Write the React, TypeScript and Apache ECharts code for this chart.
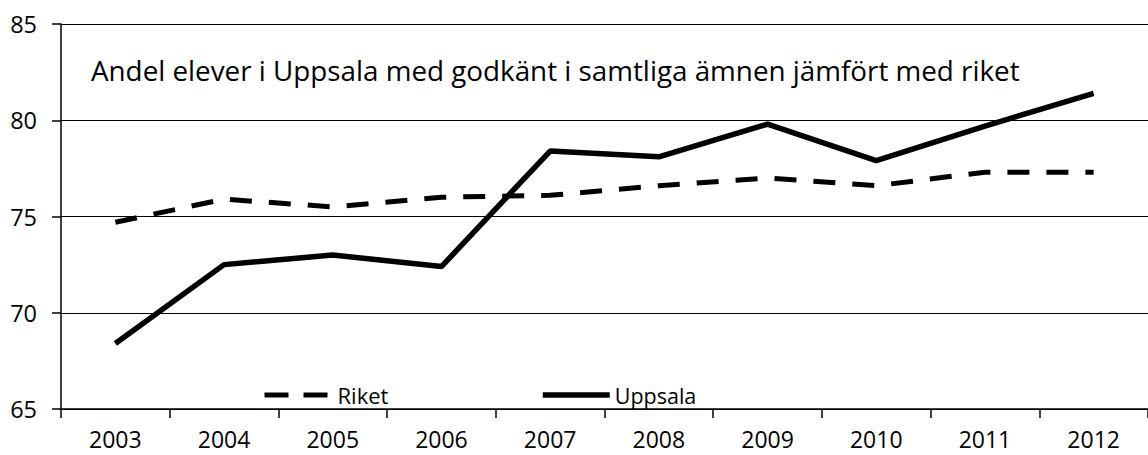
import React, { useEffect, useRef } from "react";
import * as echarts from "echarts";

const years = ["2003", "2004", "2005", "2006", "2007", "2008", "2009", "2010", "2011", "2012"];
const riket = [74.7, 75.9, 75.5, 76.0, 76.1, 76.6, 77.0, 76.6, 77.3, 77.3];
const uppsala = [68.4, 72.5, 73.0, 72.4, 78.4, 78.1, 79.8, 77.9, 79.7, 81.4];
const yTicks = { min: 65, max: 85, interval: 5 };
const titleText = "Andel elever i Uppsala med godkänt i samtliga ämnen jämfört med riket";

const FONT = "Open Sans";

export default function App() {
  const ref = useRef<HTMLDivElement>(null);
  useEffect(() => {
    if (!ref.current) return;
    const chart = echarts.init(ref.current, null, { renderer: "svg" });
    chart.setOption({
      animation: false,
      backgroundColor: "#ffffff",
      textStyle: { fontFamily: FONT, color: "#000" },
      title: {
        text: titleText,
        left: 86,
        top: 51,
        textStyle: { fontFamily: FONT, fontSize: 27.8, fontWeight: "normal", color: "#000" },
      },
      legend: [
        {
          data: ["Riket"],
          left: 257,
          top: 379,
          itemWidth: 68,
          itemHeight: 4,
          itemStyle: { opacity: 0 },
          lineStyle: { type: [24, 15], width: 5, color: "#000", cap: "butt" },
          textStyle: { fontFamily: FONT, fontSize: 22, color: "#000" },
        },
        {
          data: ["Uppsala"],
          left: 535,
          top: 379,
          itemWidth: 67,
          itemHeight: 4,
          itemStyle: { opacity: 0 },
          lineStyle: { width: 5.5, color: "#000" },
          textStyle: { fontFamily: FONT, fontSize: 21.5, color: "#000" },
        },
      ],
      grid: { left: 61, top: 24, right: -11, bottom: 46, containLabel: false },
      xAxis: {
        type: "category",
        data: years,
        boundaryGap: true,
        axisLine: { show: true, lineStyle: { color: "#000", width: 1.5 } },
        axisTick: { show: true, inside: false, length: 9, lineStyle: { color: "#000", width: 1.5 } },
        axisLabel: { margin: 19, lineHeight: 22, fontFamily: FONT, fontSize: 23, color: "#000" },
        splitLine: { show: false },
      },
      yAxis: {
        type: "value",
        min: yTicks.min,
        max: yTicks.max,
        interval: yTicks.interval,
        axisLine: { show: true, lineStyle: { color: "#000", width: 1.5 } },
        axisTick: { show: true, inside: false, length: 9, lineStyle: { color: "#000", width: 1.5 } },
        axisLabel: { margin: 24, fontFamily: FONT, fontSize: 23.5, color: "#000" },
        splitLine: { show: true, lineStyle: { color: "#000", width: 1.2 } },
      },
      series: [
        {
          name: "Riket",
          type: "line",
          data: riket,
          symbol: "none",
          lineStyle: { color: "#000", width: 5, type: [22, 17], cap: "butt" },
          itemStyle: { color: "#000" },
          z: 3,
        },
        {
          name: "Uppsala",
          type: "line",
          data: uppsala,
          symbol: "none",
          lineStyle: { color: "#000", width: 5.5 },
          itemStyle: { color: "#000" },
          z: 4,
        },
      ],
    });
    return () => chart.dispose();
  }, []);
  return (
    <div
      ref={ref}
      style={{ position: "fixed", left: 0, top: 0, width: 1148, height: 455, background: "#fff" }}
    />
  );
}
